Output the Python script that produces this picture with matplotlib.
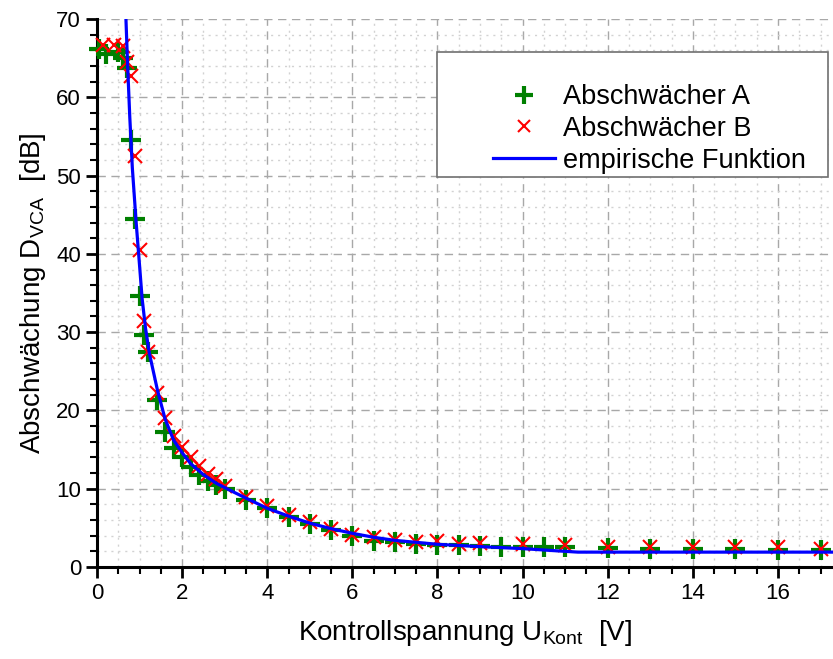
import numpy as np
import matplotlib
matplotlib.use('Agg')
import matplotlib.pyplot as plt
from matplotlib.ticker import MultipleLocator
from matplotlib.patches import Rectangle

plt.rcParams['font.family'] = ['Liberation Sans', 'DejaVu Sans']
plt.rcParams['mathtext.fontset'] = 'custom'
plt.rcParams['mathtext.rm'] = 'Liberation Sans'
plt.rcParams['mathtext.it'] = 'Liberation Sans'

# Messwerte Abschwächer A
u_a = [0.05, 0.2, 0.5, 0.6, 0.7, 0.8, 0.9, 1.0, 1.1, 1.2, 1.4, 1.6, 1.8, 2.0, 2.2, 2.4,
       2.6, 2.8, 3.0, 3.5, 4.0, 4.5, 5.0, 5.5, 6.0, 6.5, 7.0, 7.5, 8.0, 8.5, 9.0, 9.5,
       10.0, 10.5, 11.0, 12, 13, 14, 15, 16, 17]
d_a = [66.2, 65.5, 65.8, 65.0, 63.7, 54.6, 44.5, 34.6, 29.6, 27.5, 21.3, 17.3, 15.2, 14.0,
       12.8, 11.7, 11.0, 10.5, 10.0, 8.6, 7.5, 6.4, 5.5, 4.7, 3.9, 3.3, 3.2, 2.9, 2.8,
       2.8, 2.7, 2.6, 2.6, 2.6, 2.6, 2.4, 2.3, 2.3, 2.3, 2.2, 2.2]

# Messwerte Abschwächer B
u_b = [0.15, 0.4, 0.6, 0.7, 0.8, 0.9, 1.0, 1.1, 1.2, 1.4, 1.6, 1.8, 2.0, 2.2, 2.4, 2.6,
       2.8, 3.0, 3.5, 4.0, 4.5, 5.0, 5.5, 6.0, 6.5, 7.0, 7.5, 8.0, 8.5, 9.0, 10.0, 11.0,
       12, 13, 14, 15, 16, 17]
d_b = [66.7, 66.7, 66.5, 64.5, 62.7, 52.5, 40.5, 31.4, 27.5, 22.2, 19.0, 16.7, 15.3, 14.0,
       12.9, 11.9, 11.2, 10.3, 8.9, 7.8, 6.7, 5.8, 4.9, 4.1, 3.8, 3.4, 3.2, 3.3, 3.0, 3.1,
       2.9, 2.8, 2.6, 2.6, 2.5, 2.5, 2.5, 2.3]

u_fit = [0.68, 0.72, 0.77, 0.83, 0.92, 1.0, 1.06, 1.14, 1.23, 1.42, 1.6, 1.8, 2.0, 2.2,
         2.5, 2.8, 3.2, 3.5, 4.0, 4.5, 5.0, 5.5, 6.0, 6.5, 7.0, 8.0, 9.0, 10.0, 10.7,
         11.3, 17.3]
d_fit = [70.0, 64.0, 57.5, 51.0, 44.0, 38.5, 34.3, 30.5, 27.3, 22.6, 18.9, 16.2, 14.6,
         13.2, 11.8, 10.7, 9.6, 8.8, 7.5, 6.5, 5.6, 4.9, 4.3, 3.8, 3.4, 2.9, 2.6, 2.35,
         2.1, 1.9, 1.9]

W, H = 833, 659
fig = plt.figure(figsize=(W / 100, H / 100), dpi=100)
ax = fig.add_axes([97 / W, 92 / H, (W - 97) / W, (567 - 19) / H])

ax.xaxis.set_major_locator(MultipleLocator(2))
ax.xaxis.set_minor_locator(MultipleLocator(0.5))
ax.yaxis.set_major_locator(MultipleLocator(10))
ax.yaxis.set_minor_locator(MultipleLocator(2))
ax.grid(True, which='major', color='#a8a8a8', linestyle=(0, (6, 4)), linewidth=1.0)
ax.grid(True, which='minor', color='#d2d2d2', linestyle=(0, (1.5, 3.5)), linewidth=1.0)
ax.set_axisbelow(True)

ax.plot(u_a, d_a, linestyle='none', marker='+', color='#008000', ms=15, mew=3,
        clip_on=False, label='Abschwächer A', zorder=3)
ax.plot(u_b, d_b, linestyle='none', marker='x', color='#ff0000', ms=10, mew=1.5,
        clip_on=False, label='Abschwächer B', zorder=4)
ax.plot(u_fit, d_fit, color='#0000ff', lw=2.3, label='empirische Funktion', zorder=5)

ax.set_xlim(0, (W - 97) / 42.56)
ax.set_ylim(0, 70)

for s in ['top', 'right']:
    ax.spines[s].set_visible(False)
for s in ['left', 'bottom']:
    ax.spines[s].set_linewidth(2.2)

ax.tick_params(which='major', direction='out', length=8, width=2, labelsize=16)
ax.tick_params(which='minor', direction='out', length=5, width=1.5)

ax.set_xlabel('Kontrollspannung U$_{\\mathrm{Kont}}$  [V]', fontsize=20, labelpad=10)
ax.set_ylabel('Abschwächung D$_{\\mathrm{VCA}}$  [dB]', fontsize=20, labelpad=6)

# Legendenrahmen
frame = Rectangle((437 / W, 1 - 177 / H), (828 - 437) / W, 125 / H,
                  transform=fig.transFigure, facecolor='white',
                  edgecolor='#707070', linewidth=1.2, zorder=10, clip_on=False)
ax.add_artist(frame)
leg = ax.legend(loc='upper left', bbox_to_anchor=(493 / W, 1 - 84 / H),
                bbox_transform=fig.transFigure, frameon=False, fontsize=19.5,
                handlelength=2.3, handletextpad=0.3, labelspacing=0.22,
                borderpad=0, borderaxespad=0, markerscale=0.85)
leg.set_zorder(11)

fig.savefig('out.png', dpi=100)
